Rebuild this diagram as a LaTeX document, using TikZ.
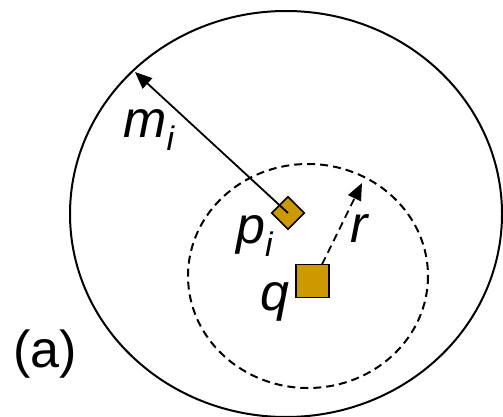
\documentclass[tikz,border=0pt]{standalone}
\usepackage{fontspec}
\setmainfont{Liberation Sans}
\usetikzlibrary{arrows.meta}
\definecolor{pointgold}{HTML}{CC9900}
\newcommand{\sublbl}[2]{{\itshape #1}\raisebox{-13pt}{\fontsize{34}{40}\selectfont\itshape #2}}

\begin{document}
\begin{tikzpicture}[
  x=1pt,
  y=-1pt,
  every node/.style={font=\fontsize{52}{60}\selectfont, inner sep=0pt},
  boundary/.style={black, line width=2pt},
  reach/.style={black, line width=2pt, dash pattern=on 8pt off 5pt},
  radius/.style={black, line width=1.8pt, -{Triangle[length=17pt,width=14pt]}},
  dashradius/.style={radius, dash pattern=on 8pt off 5pt},
  mark pt/.style={draw=black, fill=pointgold, line width=1.5pt,
                  minimum size=#1, rotate=45},
  query pt/.style={draw=black, fill=pointgold, line width=1.5pt,
                   minimum size=33pt}
]
  \useasboundingbox (0,0) rectangle (503,417);

  % ---- the large region and the dashed range round q ----
  \draw[boundary] (286,214) ellipse [x radius=216, y radius=203];
  \draw[reach]    (308,276) ellipse [x radius=120, y radius=112];

  % ---- the two points ----
  \node[mark pt=23pt] (pi) at (288,213) {};
  \node[query pt]     (q)  at (312.5,281) {};

  % ---- arrow tips on the two rims ----
  \coordinate (mtip) at (135,72);
  \coordinate (rtip) at (362,183);
  \coordinate (qtop) at (322,264.5);

  % ---- radii ----
  \draw[radius]     (pi.center) -- (mtip);
  \draw[dashradius] (qtop) -- (rtip);

  % ---- labels ----
  \node[anchor=base west] (mlbl) at (123,138) {\sublbl{m}{i}};
  \node[anchor=base west] (plbl) at (236,243) {\sublbl{p}{i}};
  \node[anchor=base west] (qlbl) at (260,310) {\itshape q};
  \node[anchor=base west] (rlbl) at (350,242) {\itshape r};
  \node[anchor=base west] (alb)  at (13,367)  {(a)};
\end{tikzpicture}
\end{document}
